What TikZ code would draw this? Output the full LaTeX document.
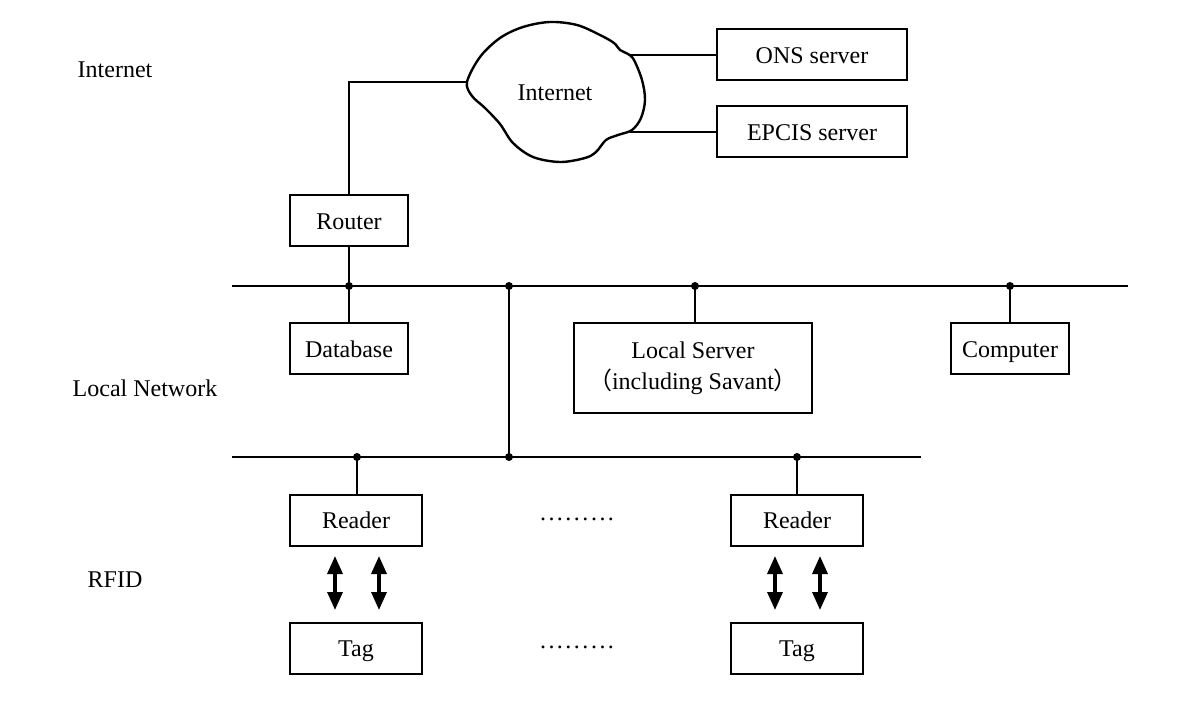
\documentclass[tikz,border=0pt]{standalone}
\usepackage{fontspec}
\setmainfont{Liberation Serif}
\newfontfamily\cjk{Noto Sans CJK SC}
\usetikzlibrary{arrows.meta}
\newcommand\dotrow{.\kern1.25pt.\kern1.25pt.\kern1.25pt.\kern1.25pt.\kern1.25pt.\kern1.25pt.\kern1.25pt.\kern1.25pt.}

\begin{document}
\begin{tikzpicture}[x=0.5pt,y=-0.5pt,line width=1pt,
  font=\fontsize{12pt}{15.5pt}\selectfont,
  box/.style={draw,minimum width=59pt,minimum height=25.5pt,inner sep=0pt,
    text height=8.2pt,text depth=0pt},
  dbl/.style={{Triangle[width=7.5pt,length=9pt]}-{Triangle[width=7.5pt,length=9pt]},line width=1.7pt}]
\useasboundingbox (0,0) rectangle (1200,711);
% layer labels
\node (linet) at (115,70) {Internet};
\node (llan) at (145,388) {Local Network};
\node (lrfid) at (115,580) {RFID};
% cloud
\draw[line width=1.2pt] plot[smooth cycle,tension=0.55] coordinates {(467,82) (480,57) (500,38) (523,27) (550,22)
  (577,25) (600,35) (614,43) (620,50) (628,54) (634,60) (642,80) (645,100) (641,118) (632,130)
  (618,135) (606,140) (596,152) (585,158) (560,162) (533,157) (513,143) (500,124) (485,108) (472,96)};
\node (cloud) at (555,93) {Internet};
\coordinate (cw) at (467,82);
\coordinate (cn) at (630,55);
\coordinate (cs) at (630,132);
\node[box,minimum width=95pt] (ons) at (812,55) {ONS server};
\node[box,minimum width=95pt] (epcis) at (812,132) {EPCIS server};
\draw (cn) -- (ons.west);
\draw (cs) -- (epcis.west);
\node[box] (router) at (349,221) {Router};
\draw (router.north) |- (cw);
% upper bus
\coordinate (b1l) at (232,286);
\coordinate (b1r) at (1128,286);
\coordinate (j11) at (349,286);
\coordinate (j12) at (509,286);
\coordinate (j13) at (695,286);
\coordinate (j14) at (1010,286);
\draw (b1l) -- (b1r);
\node[box] (db) at (349,349) {Database};
\node[draw,minimum width=119pt,minimum height=45pt,inner sep=0pt,align=center] (srv) at (693,368)
  {Local Server\\{\cjk （}including Savant{\cjk ）}};
\node[box] (pc) at (1010,349) {Computer};
\draw (router.south) -- (j11) -- (db.north);
\draw (j13) -- (j13 |- srv.north);
\draw (j14) -- (pc.north);
% lower bus
\coordinate (b2l) at (232,457);
\coordinate (b2r) at (921,457);
\coordinate (j21) at (357,457);
\coordinate (j22) at (509,457);
\coordinate (j23) at (797,457);
\draw (b2l) -- (b2r);
\draw (j12) -- (j22);
\foreach \j in {j11,j12,j13,j14,j21,j22,j23}
  \fill (\j) circle (2pt);
% readers and tags
\node[box,minimum width=66pt] (rd1) at (356,520) {Reader};
\node[box,minimum width=66pt] (rd2) at (797,520) {Reader};
\node[box,minimum width=66pt] (tag1) at (356,648) {Tag};
\node[box,minimum width=66pt] (tag2) at (797,648) {Tag};
\draw (j21) -- (j21 |- rd1.north);
\draw (j23) -- (rd2.north);
\node (dots1) at (577,519) {\dotrow};
\node (dots2) at (577,647) {\dotrow};
\coordinate (a1t) at (335,556); \coordinate (a1b) at (335,610);
\coordinate (a2t) at (379,556); \coordinate (a2b) at (379,610);
\coordinate (a3t) at (775,556); \coordinate (a3b) at (775,610);
\coordinate (a4t) at (820,556); \coordinate (a4b) at (820,610);
\draw[dbl] (a1t) -- (a1b);
\draw[dbl] (a2t) -- (a2b);
\draw[dbl] (a3t) -- (a3b);
\draw[dbl] (a4t) -- (a4b);
\end{tikzpicture}
\end{document}
